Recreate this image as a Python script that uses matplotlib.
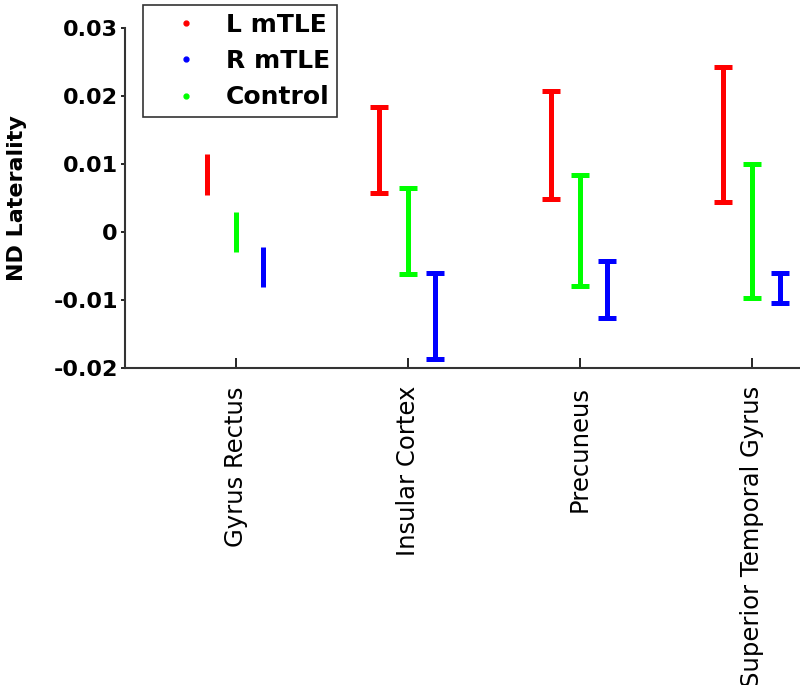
import numpy as np
import matplotlib
matplotlib.use("Agg")
import matplotlib.pyplot as plt
from matplotlib.lines import Line2D

# regions on the x axis
regions = ["Gyrus Rectus", "Insular Cortex", "Precuneus", "Superior Temporal Gyrus"]

# error bar ends (lower, upper), one list per group
l_lower = [0.0055, 0.0058, 0.0049, 0.0044]
l_upper = [0.0115, 0.0184, 0.0208, 0.0243]
r_lower = [-0.0081, -0.0187, -0.0127, -0.0105]
r_upper = [-0.0022, -0.0061, -0.0043, -0.0060]
c_lower = [-0.0030, -0.0062, -0.0080, -0.0097]
c_upper = [0.0030, 0.0065, 0.0084, 0.0100]

groups = ["L mTLE", "R mTLE", "Control"]
colors = ["#ff0000", "#0000ff", "#00ff00"]

yticks = [-0.02, -0.01, 0, 0.01, 0.02, 0.03]
ytick_labels = ["-0.02", "-0.01", "0", "0.01", "0.02", "0.03"]

plt.rcParams["font.family"] = ["DejaVu Sans"]
plt.rcParams["axes.unicode_minus"] = False

fig = plt.figure(figsize=(8, 6.85), dpi=100)
ax = fig.add_axes([0.156, 0.4628, 0.844, 0.4964])

x = np.arange(1, len(regions) + 1)
offsets = [-0.17, 0.16, 0.0]  # L, R, Control
bounds = [(l_lower, l_upper), (r_lower, r_upper), (c_lower, c_upper)]

for (lo, hi), off, col in zip(bounds, offsets, colors):
    lo = np.array(lo)
    hi = np.array(hi)
    mid = (lo + hi) / 2
    err = (hi - lo) / 2
    # first region is drawn without caps in the original
    ax.errorbar(x[:1] + off, mid[:1], yerr=err[:1], fmt=".", color=col,
                markersize=2, elinewidth=3.6, capsize=0)
    ax.errorbar(x[1:] + off, mid[1:], yerr=err[1:], fmt=".", color=col,
                markersize=2, elinewidth=3.6, capsize=6.5, capthick=3.6)

ax.set_xlim(0.355, 4.279)
ax.set_ylim(-0.02, 0.03)
ax.set_xticks(x)
ax.set_xticklabels(regions, rotation=90, fontsize=17.5, va="top", ha="center")
ax.set_yticks(yticks)
ax.set_yticklabels(ytick_labels, fontsize=16, fontweight="bold")
ax.set_ylabel("ND Laterality", fontsize=16, fontweight="bold", labelpad=19)

ax.spines["top"].set_visible(False)
ax.spines["right"].set_visible(False)
for s in ["left", "bottom"]:
    ax.spines[s].set_linewidth(1.5)
    ax.spines[s].set_color("#333333")
ax.tick_params(axis="x", direction="in", length=7, width=1.2, pad=13)
ax.tick_params(axis="y", direction="out", length=3, width=1.2, pad=2)

handles = [Line2D([], [], marker=".", ls="", color=c, markersize=7) for c in colors]
leg = fig.legend(handles, groups, loc="upper left",
                 bbox_to_anchor=(143 / 800, 1 - 5 / 685),
                 prop={"size": 18, "weight": "bold"}, frameon=True,
                 fancybox=False, edgecolor="black", handlelength=2.8,
                 handletextpad=0.2, borderpad=0.3, labelspacing=0.5,
                 borderaxespad=0)
leg.get_frame().set_linewidth(1.2)

fig.savefig("out.png", dpi=100)
